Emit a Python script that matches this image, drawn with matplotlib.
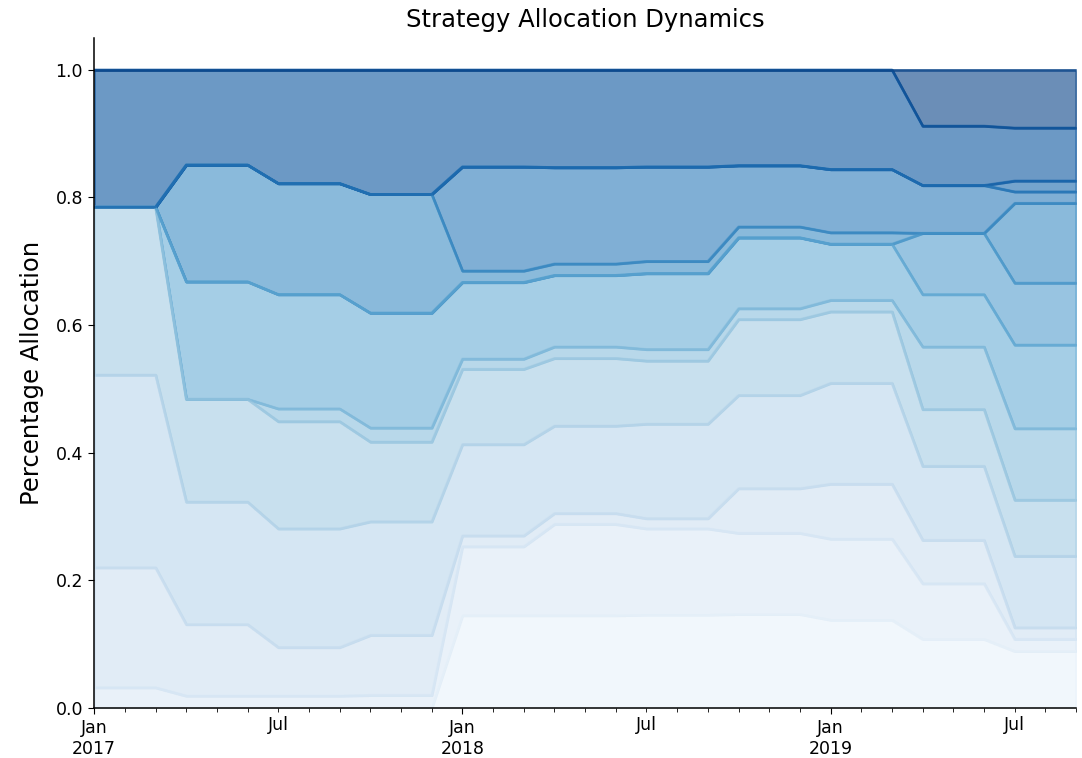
import numpy as np
import pandas as pd
import matplotlib
matplotlib.use("Agg")
import matplotlib.pyplot as plt

# Quarterly allocation weights (held for each month of the quarter), Q1-2017 .. Q3-2019
quarters = ["2017Q1", "2017Q2", "2017Q3", "2017Q4", "2018Q1", "2018Q2",
            "2018Q3", "2018Q4", "2019Q1", "2019Q2", "2019Q3"]
strategy_1 = [0.000, 0.000, 0.000, 0.000, 0.145, 0.145, 0.146, 0.147, 0.138, 0.108, 0.089]
strategy_2 = [0.032, 0.019, 0.019, 0.020, 0.108, 0.143, 0.135, 0.127, 0.127, 0.087, 0.019]
strategy_3 = [0.188, 0.112, 0.076, 0.094, 0.017, 0.017, 0.016, 0.070, 0.086, 0.068, 0.018]
strategy_4 = [0.302, 0.192, 0.186, 0.178, 0.143, 0.137, 0.148, 0.146, 0.158, 0.116, 0.112]
strategy_5 = [0.263, 0.161, 0.168, 0.125, 0.118, 0.106, 0.099, 0.119, 0.112, 0.089, 0.088]
strategy_6 = [0.000, 0.000, 0.020, 0.022, 0.016, 0.018, 0.018, 0.017, 0.018, 0.098, 0.112]
strategy_7 = [0.000, 0.184, 0.179, 0.180, 0.120, 0.112, 0.119, 0.111, 0.088, 0.082, 0.131]
strategy_8 = [0.000, 0.000, 0.000, 0.000, 0.000, 0.000, 0.000, 0.000, 0.000, 0.096, 0.097]
strategy_9 = [0.000, 0.183, 0.174, 0.186, 0.018, 0.018, 0.019, 0.017, 0.018, 0.000, 0.125]
strategy_10 = [0.000, 0.000, 0.000, 0.000, 0.163, 0.151, 0.148, 0.096, 0.099, 0.075, 0.018]
strategy_11 = [0.000, 0.000, 0.000, 0.000, 0.000, 0.000, 0.000, 0.000, 0.000, 0.000, 0.017]
strategy_12 = [0.215, 0.149, 0.178, 0.195, 0.152, 0.153, 0.152, 0.150, 0.156, 0.093, 0.083]
strategy_13 = [0.000, 0.000, 0.000, 0.000, 0.000, 0.000, 0.000, 0.000, 0.000, 0.088, 0.091]

series = [strategy_1, strategy_2, strategy_3, strategy_4, strategy_5, strategy_6,
          strategy_7, strategy_8, strategy_9, strategy_10, strategy_11,
          strategy_12, strategy_13]
names = [f"Strategy {i + 1}" for i in range(len(series))]

q = pd.DataFrame(dict(zip(names, series)),
                 index=pd.PeriodIndex(quarters, freq="Q"))
months = pd.period_range("2017-01", "2019-09", freq="M")
df = q.reindex(months.asfreq("Q")).set_axis(months)

n = len(names)
colors = [plt.cm.Blues(v) for v in np.linspace(0, 1, n + 2)[1:-1]]

plt.rcParams["xtick.labelsize"] = 12.5
plt.rcParams["ytick.labelsize"] = 12.5
plt.rcParams["xtick.major.size"] = 4.5
plt.rcParams["ytick.major.size"] = 4.5
plt.rcParams["xtick.minor.size"] = 2.6
plt.rcParams["axes.linewidth"] = 1.1

fig, ax = plt.subplots(figsize=(10.82, 7.58), dpi=100)
df.plot.area(ax=ax, color=colors, alpha=0.6, legend=False, linewidth=1.8)
ax.set_title("Strategy Allocation Dynamics", fontsize=17.5, pad=8)
ax.set_ylabel("Percentage Allocation", fontsize=17.5, labelpad=8)
ax.set_xlabel("")
ax.spines["top"].set_visible(False)
ax.spines["right"].set_visible(False)
fig.subplots_adjust(left=0.087, right=0.9945, bottom=0.066, top=0.95)
fig.savefig("out.png", dpi=100)
